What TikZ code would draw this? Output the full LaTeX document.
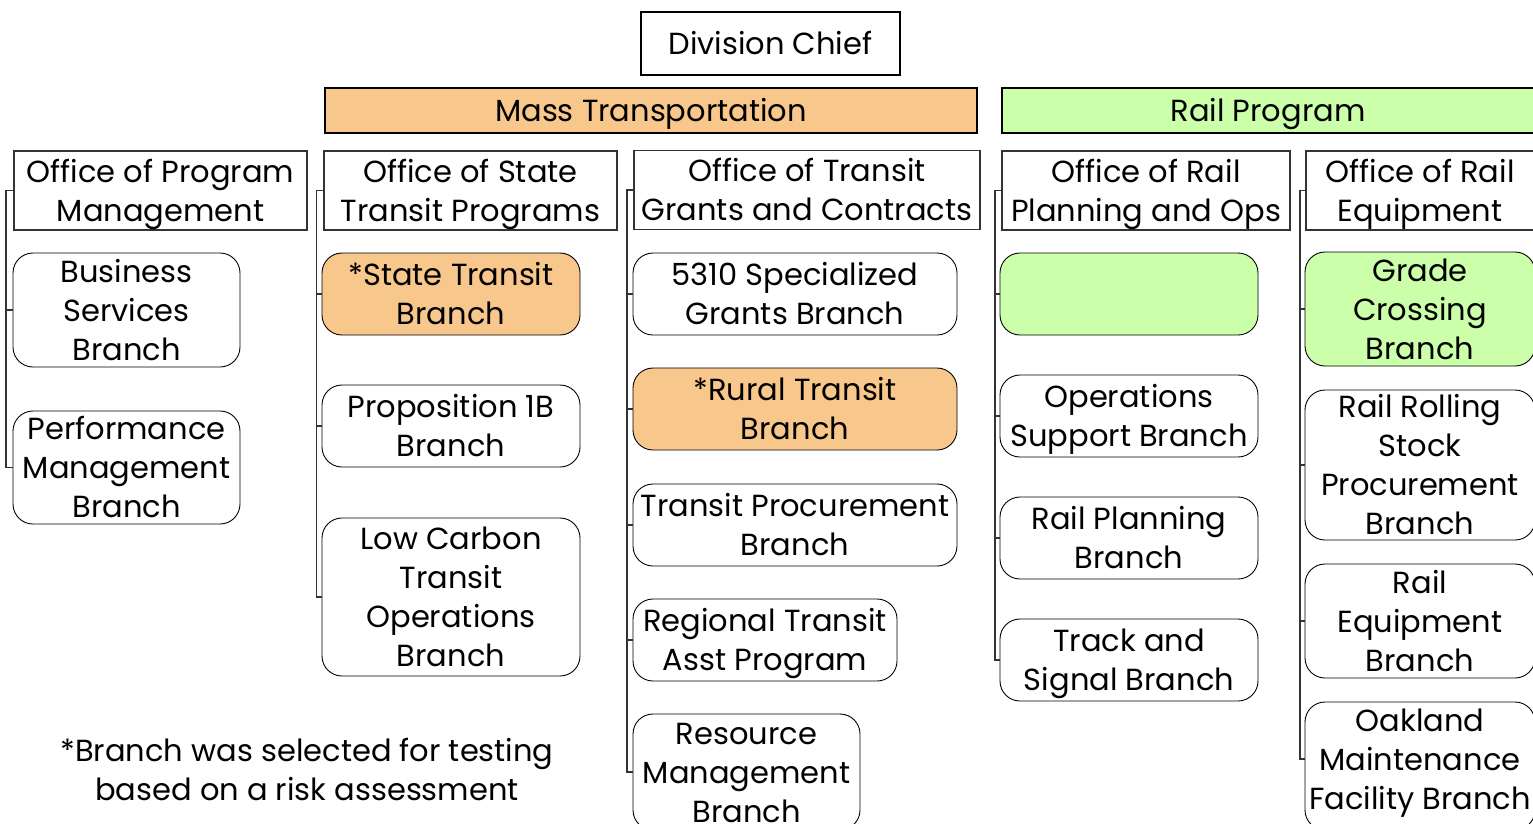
\documentclass[tikz,border=0pt]{standalone}
\usepackage{fontspec}
\setmainfont{Poppins}
\definecolor{massfill}{HTML}{F8C78B}
\definecolor{railfill}{HTML}{CCFFAA}
\definecolor{edge}{HTML}{333333}
% label with fixed-height struts, so every label is centred on its line boxes
\newcommand\tx[1]{\rule{0pt}{31.5pt}#1\rule[-9pt]{0pt}{9pt}}
\begin{document}
\begin{tikzpicture}[x=1pt,y=-1pt,
  every node/.style={inner xsep=0pt, inner ysep=-5pt, align=center, font=\fontsize{30.5}{39}\selectfont},
  chief/.style={draw=black, line width=2pt, minimum width=259pt, minimum height=63pt},
  banner/.style={draw=black, line width=1.6pt, minimum height=45pt},
  office/.style={draw=edge, line width=1.2pt, minimum height=79pt},
  branch/.style={draw=black, line width=0.9pt, rounded corners=20pt},
  tie/.style={draw=edge, line width=1.3pt}]
\useasboundingbox (0,0) rectangle (1533,823);

% top of the chart
\node[chief] (chief) at (770.5,43.5) {\tx{Division Chief}};
\node[banner, fill=massfill, minimum width=652pt] (mass) at (651,110.5) {\tx{Mass Transportation}};
\node[banner, fill=railfill, minimum width=532pt] (rail) at (1268,110.5) {\tx{Rail Program}};

% offices
\node[office, minimum width=293pt] (opm)  at (160.5,190.5) {\tx{Office of Program\\Management}};
\node[office, minimum width=293pt] (ostp) at (470.5,190.5) {\tx{Office of State\\Transit Programs}};
\node[office, minimum width=346pt] (otgc) at (807,190) {\tx{Office of Transit\\Grants and Contracts}};
\node[office, minimum width=288pt] (orpo) at (1146,190.5) {\tx{Office of Rail\\Planning and Ops}};
\node[office, minimum width=228pt] (ore)  at (1420,190.5) {\tx{Office of Rail\\Equipment}};

% Office of Program Management branches
\node[branch, minimum width=227pt, minimum height=114pt] (bus)  at (126.5,310) {\tx{Business\\Services\\Branch}};
\node[branch, minimum width=227pt, minimum height=113pt] (perf) at (126.5,467.5) {\tx{Performance\\Management\\Branch}};

% Office of State Transit Programs branches
\node[branch, fill=massfill, minimum width=258pt, minimum height=82pt] (stb) at (451,294) {\tx{*State Transit\\Branch}};
\node[branch, minimum width=258pt, minimum height=82pt] (prop) at (451,426) {\tx{Proposition 1B\\Branch}};
\node[branch, minimum width=258pt, minimum height=158pt] (lct) at (451,597) {\tx{Low Carbon\\Transit\\Operations\\Branch}};

% Office of Transit Grants and Contracts branches
\node[branch, minimum width=324pt, minimum height=82pt] (sgb) at (795,294) {\tx{5310 Specialized\\Grants Branch}};
\node[branch, fill=massfill, minimum width=324pt, minimum height=82pt] (rtb) at (795,409) {\tx{*Rural Transit\\Branch}};
\node[branch, minimum width=324pt, minimum height=82pt] (tpb) at (795,525) {\tx{Transit Procurement\\Branch}};
\node[branch, minimum width=264pt, minimum height=82pt] (rta) at (765,640) {\tx{Regional Transit\\Asst Program}};
\node[branch, minimum width=227pt, minimum height=116pt] (rmb) at (746.5,772) {\tx{Resource\\Management\\Branch}};

% Office of Rail Planning and Ops branches
\node[branch, fill=railfill, minimum width=258pt, minimum height=82pt] (gb) at (1129,294) {};
\node[branch, minimum width=258pt, minimum height=82pt] (osb) at (1129,416) {\tx{Operations\\Support Branch}};
\node[branch, minimum width=258pt, minimum height=82pt] (rpb) at (1129,538) {\tx{Rail Planning\\Branch}};
\node[branch, minimum width=258pt, minimum height=82pt] (tsb) at (1129,660) {\tx{Track and\\Signal Branch}};

% Office of Rail Equipment branches
\node[branch, fill=railfill, minimum width=230pt, minimum height=114pt] (gcb) at (1420,309) {\tx{Grade\\Crossing\\Branch}};
\node[branch, minimum width=230pt, minimum height=150pt] (rsp) at (1420,465) {\tx{Rail Rolling\\Stock\\Procurement\\Branch}};
\node[branch, minimum width=230pt, minimum height=114pt] (reb) at (1420,621) {\tx{Rail\\Equipment\\Branch}};
\node[branch, minimum width=230pt, minimum height=128pt] (omf) at (1420,766) {};
\node (omftext) at ([yshift=7pt]omf.center) {\tx{Oakland\\Maintenance\\Facility Branch}};

% footnote
\node (note) at (307,770) {\tx{*Branch was selected for testing\\based on a risk assessment}};

% reporting lines
\coordinate (t1) at (6,0);
\coordinate (t2) at (316.5,0);
\coordinate (t3) at (627,0);
\coordinate (t4) at (995,0);
\coordinate (t5) at (1300,0);

\draw[tie] (opm.west) -| (t1 |- perf.west) -- (perf.west);
\draw[tie] (bus.west) -- (t1 |- bus.west);

\draw[tie] (ostp.west) -| (t2 |- lct.west) -- (lct.west);
\foreach \n in {stb,prop} \draw[tie] (\n.west) -- (t2 |- \n.west);

\draw[tie] (otgc.west) -| (t3 |- rmb.west) -- (rmb.west);
\foreach \n in {sgb,rtb,tpb,rta} \draw[tie] (\n.west) -- (t3 |- \n.west);

\draw[tie] (orpo.west) -| (t4 |- tsb.west) -- (tsb.west);
\foreach \n in {gb,osb,rpb} \draw[tie] (\n.west) -- (t4 |- \n.west);

\draw[tie] (ore.west) -| (t5 |- omftext.west) -- (omf.west |- omftext.west);
\foreach \n in {gcb,rsp,reb} \draw[tie] (\n.west) -- (t5 |- \n.west);
\end{tikzpicture}
\end{document}
